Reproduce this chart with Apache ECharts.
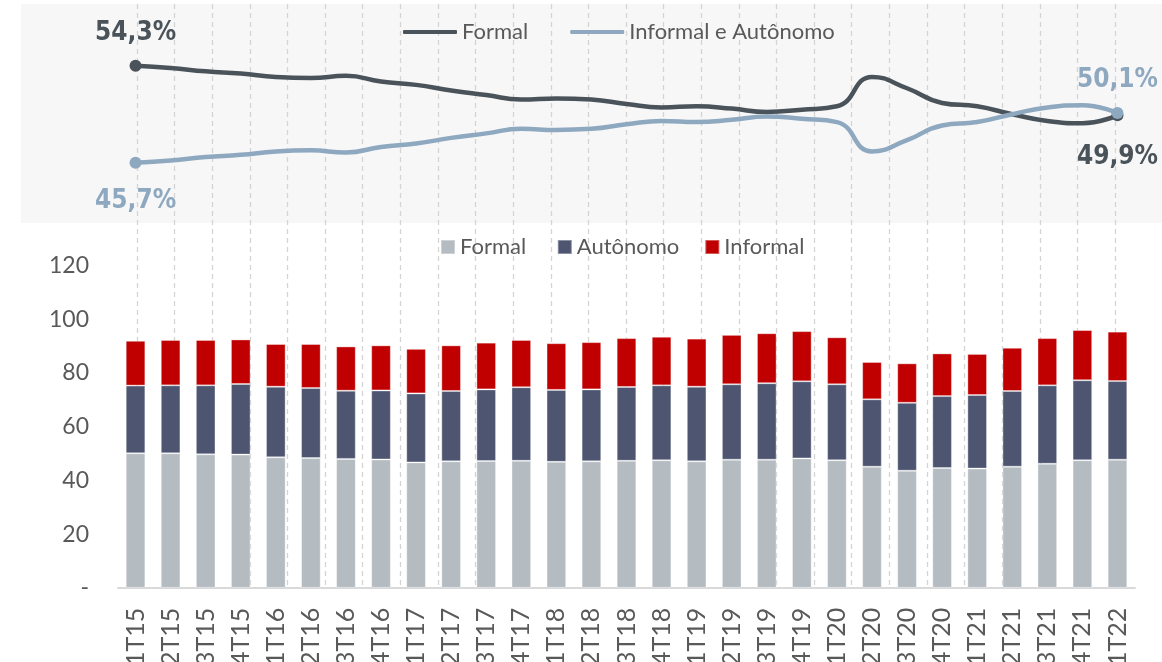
<!DOCTYPE html>
<html>
<head>
<meta charset="utf-8">
<script src="https://cdn.jsdelivr.net/npm/echarts@6.0.0/dist/echarts.min.js"></script>
<style>
  html, body { margin: 0; padding: 0; background: #fff; }
  #chart { width: 1162px; height: 662px; }
</style>
</head>
<body>
<div id="chart"></div>
<script>
  // trimestres
  const categories = [
    '1T15', '2T15', '3T15', '4T15', '1T16', '2T16', '3T16', '4T16',
    '1T17', '2T17', '3T17', '4T17', '1T18', '2T18', '3T18', '4T18',
    '1T19', '2T19', '3T19', '4T19', '1T20', '2T20', '3T20', '4T20',
    '1T21', '2T21', '3T21', '4T21', '1T22'
  ]

  // participação (%) - painel de cima
  const formalShare = [
    54.3, 54.1, 53.8, 53.6, 53.3, 53.2, 53.4, 52.9, 52.6, 52.1, 51.7, 51.3, 51.4, 51.3, 50.9,
    50.6, 50.7, 50.5, 50.2, 50.4, 50.7, 53.3, 52.3, 51.0, 50.7, 50.0, 49.4, 49.2, 49.9
  ]
  const informalShare = [
    45.7, 45.9, 46.2, 46.4, 46.7, 46.8, 46.6, 47.1, 47.4, 47.9, 48.3, 48.7, 48.6, 48.7, 49.1,
    49.4, 49.3, 49.5, 49.8, 49.6, 49.3, 46.7, 47.7, 49.0, 49.3, 50.0, 50.6, 50.8, 50.1
  ]

  // ocupados (milhões) - barras empilhadas
  const formalValues = [
    50.1, 50.1, 49.7, 49.6, 48.6, 48.3, 48.0, 47.8, 46.7, 47.1, 47.2, 47.3, 46.9, 47.1, 47.3,
    47.5, 47.1, 47.7, 47.7, 48.2, 47.5, 45.1, 43.6, 44.6, 44.4, 45.1, 46.2, 47.5, 47.7
  ]
  const autonomoValues = [
    25.2, 25.3, 25.7, 26.3, 26.3, 26.1, 25.4, 25.7, 25.7, 26.2, 26.7, 27.4, 26.8, 26.8, 27.5,
    27.9, 27.8, 28.1, 28.5, 28.7, 28.3, 25.1, 25.3, 26.8, 27.4, 28.2, 29.2, 29.8, 29.3
  ]
  const informalValues = [
    16.7, 16.9, 16.9, 16.6, 15.9, 16.4, 16.5, 16.8, 16.6, 17.0, 17.4, 17.6, 17.4, 17.6, 18.2,
    18.1, 17.9, 18.4, 18.6, 18.7, 17.5, 13.9, 14.7, 15.9, 15.3, 16.1, 17.6, 18.7, 18.4
  ]

  const yTicks = [0, 20, 40, 60, 80, 100, 120]

  const textColor = '#595959'
  const baseFont = 'Lato, "Noto Sans", sans-serif'
  const colorFormalLine = '#4b535a'
  const colorInformalLine = '#8ea8c0'

  function pct(v) {
    return v.toFixed(1).replace('.', ',') + '%'
  }

  // só o primeiro e o último ponto levam marcador e rótulo
  function endPoints(values, color, firstPos, firstDist, lastPos, lastDist) {
    const last = values.length - 1
    return values.map((v, i) => {
      if (i !== 0 && i !== last) return { value: v }
      return {
        value: v,
        label: {
          show: true,
          position: i === 0 ? firstPos : lastPos,
          distance: i === 0 ? firstDist : lastDist,
          formatter: p => pct(p.value),
          color: color,
          fontFamily: '"Liberation Sans Narrow", "DejaVu Sans Condensed", sans-serif',
          fontWeight: 'bold',
          fontSize: 26
        }
      }
    })
  }

  const chart = echarts.init(document.getElementById('chart'))

  chart.setOption({
    animation: false,
    backgroundColor: '#ffffff',
    textStyle: { fontFamily: baseFont },

    graphic: {
      elements: [{
        type: 'rect',
        z: -10,
        silent: true,
        shape: { x: 21, y: 4, width: 1141, height: 219 },
        style: { fill: '#f7f7f7' }
      }]
    },

    legend: [
      {
        data: ['Formal', 'Informal e Autônomo'],
        left: 398,
        top: 16,
        icon: 'roundRect',
        itemWidth: 54,
        itemHeight: 4,
        itemGap: 42,
        textStyle: { color: textColor, fontSize: 22, fontFamily: baseFont }
      },
      {
        data: ['Formal ', 'Autônomo', 'Informal'],
        left: 435,
        top: 231,
        icon: 'rect',
        itemWidth: 14,
        itemHeight: 14,
        itemGap: 25,
        textStyle: { color: textColor, fontSize: 22, fontFamily: baseFont }
      }
    ],

    grid: [
      { left: 118, width: 1017, top: 1.4, height: 225.6, outerBoundsMode: 'none' },
      { left: 118, width: 1017, top: 265.6, height: 322.2, outerBoundsMode: 'none' },
      { left: 137, right: 47, top: 4, bottom: 75, outerBoundsMode: 'none' }
    ],

    xAxis: [
      {
        gridIndex: 0,
        type: 'category',
        data: categories,
        boundaryGap: true,
        show: false
      },
      {
        gridIndex: 1,
        type: 'category',
        data: categories,
        axisLine: { lineStyle: { color: '#d9d9d9', width: 2 } },
        axisTick: { show: false },
        axisLabel: {
          rotate: 90,
          margin: 20,
          color: textColor,
          fontSize: 25,
          fontFamily: baseFont
        }
      },
      {
        // linhas verticais tracejadas do fundo
        gridIndex: 2,
        type: 'value',
        min: 0,
        max: 26,
        interval: 1,
        z: 0,
        axisLine: { show: false },
        axisTick: { show: false },
        axisLabel: { show: false },
        splitLine: {
          show: true,
          lineStyle: { color: '#d4d4d4', width: 1.3, type: [5, 4] }
        }
      }
    ],

    yAxis: [
      {
        gridIndex: 0,
        type: 'value',
        min: 40,
        max: 60,
        show: false,
        splitLine: { show: false }
      },
      {
        gridIndex: 1,
        type: 'value',
        min: yTicks[0],
        max: yTicks[yTicks.length - 1],
        interval: yTicks[1] - yTicks[0],
        axisLine: { show: false },
        axisTick: { show: false },
        splitLine: { show: false },
        axisLabel: {
          margin: 29,
          color: textColor,
          fontSize: 23,
          fontFamily: baseFont,
          formatter: v => (v === 0 ? '-' : v)
        }
      },
      {
        gridIndex: 2,
        type: 'value',
        show: false,
        splitLine: { show: false }
      }
    ],

    series: [
      {
        name: 'Formal',
        type: 'line',
        xAxisIndex: 0,
        yAxisIndex: 0,
        smooth: 0.5,
        z: 5,
        symbol: 'circle',
        symbolSize: (v, p) => (p.dataIndex === 0 || p.dataIndex === formalShare.length - 1 ? 12 : 0),
        itemStyle: { color: colorFormalLine },
        lineStyle: { color: colorFormalLine, width: 4.5 },
        data: endPoints(formalShare, colorFormalLine, 'top', 13, 'bottom', 23)
      },
      {
        name: 'Informal e Autônomo',
        type: 'line',
        xAxisIndex: 0,
        yAxisIndex: 0,
        smooth: 0.5,
        z: 5,
        symbol: 'circle',
        symbolSize: (v, p) => (p.dataIndex === 0 || p.dataIndex === informalShare.length - 1 ? 12 : 0),
        itemStyle: { color: colorInformalLine },
        lineStyle: { color: colorInformalLine, width: 4.5 },
        data: endPoints(informalShare, colorInformalLine, 'bottom', 20, 'top', 14)
      },
      {
        name: 'Formal ',
        type: 'bar',
        xAxisIndex: 1,
        yAxisIndex: 1,
        stack: 'ocupados',
        barWidth: '56%',
        z: 5,
        itemStyle: { color: '#b4bbc1', borderColor: 'rgba(255,255,255,0.35)', borderWidth: 1 },
        data: formalValues
      },
      {
        name: 'Autônomo',
        type: 'bar',
        xAxisIndex: 1,
        yAxisIndex: 1,
        stack: 'ocupados',
        barWidth: '56%',
        z: 5,
        itemStyle: { color: '#4d5571', borderColor: 'rgba(255,255,255,0.35)', borderWidth: 1 },
        data: autonomoValues
      },
      {
        name: 'Informal',
        type: 'bar',
        xAxisIndex: 1,
        yAxisIndex: 1,
        stack: 'ocupados',
        barWidth: '56%',
        z: 5,
        itemStyle: { color: '#c00000', borderColor: 'rgba(255,255,255,0.35)', borderWidth: 1 },
        data: informalValues
      }
    ]
  })
</script>
</body>
</html>
